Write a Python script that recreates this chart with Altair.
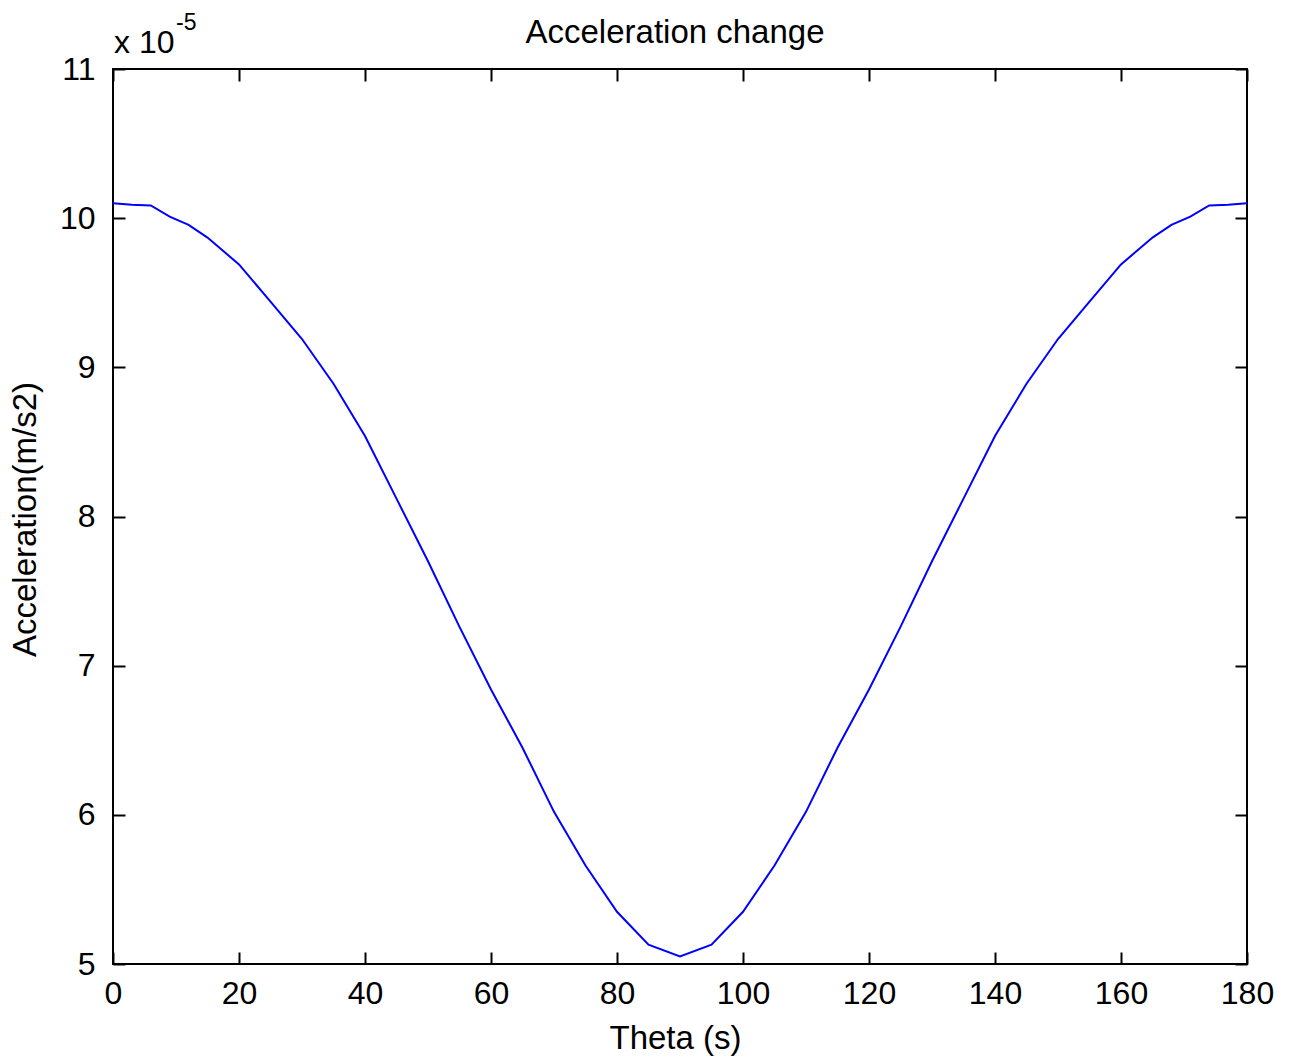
import altair as alt
import pandas as pd

# ---- data (acceleration in units of 1e-5 m/s^2) ----
THETA = [0, 3, 6, 9, 12, 15, 20, 25, 30, 35, 40, 45, 50, 55, 60, 65, 70, 75, 80, 85, 90,
         95, 100, 105, 110, 115, 120, 125, 130, 135, 140, 145, 150, 155, 160, 165,
         168, 171, 174, 177, 180]
ACC_E5 = [10.10, 10.09, 10.085, 10.01, 9.955, 9.87, 9.69, 9.44, 9.19, 8.89, 8.54, 8.12,
          7.70, 7.26, 6.84, 6.45, 6.02, 5.66, 5.35, 5.13, 5.05,
          5.13, 5.35, 5.66, 6.02, 6.45, 6.84, 7.26, 7.70, 8.12, 8.54, 8.89, 9.19, 9.44,
          9.69, 9.87, 9.955, 10.01, 10.085, 10.09, 10.10]
X_TICKS = [0, 20, 40, 60, 80, 100, 120, 140, 160, 180]
Y_TICKS = [5, 6, 7, 8, 9, 10, 11]
EXP_BASE = ["x 10"]
EXP_POWER = ["-5"]
TITLE = ["Acceleration change"]
X_TITLE = "Theta (s)"
Y_TITLE = "Acceleration(m/s2)"

df = pd.DataFrame({"theta": THETA, "acc": ACC_E5})

W, H = 1134, 895
FONT = "Liberation Sans"
xs = alt.Scale(domain=[0, 180], nice=False, zero=False)
ys = alt.Scale(domain=[5, 11], nice=False, zero=False)

base = alt.Chart(df)

main = base.mark_line(color="#0000ff", strokeWidth=2).encode(
    x=alt.X("theta:Q", scale=xs, axis=alt.Axis(
        orient="bottom", values=X_TICKS, ticks=False, tickSize=0, domain=False, grid=False,
        labelFontSize=32, labelFont=FONT, labelColor="black", labelPadding=14,
        labelFlush=False, labelOverlap=False,
        title=X_TITLE, titleFont=FONT, titleFontSize=33, titleFontWeight="normal",
        titleColor="black", titleX=562, titleY=84, titleBaseline="alphabetic")),
    y=alt.Y("acc:Q", scale=ys, axis=alt.Axis(
        orient="left", values=Y_TICKS, ticks=False, tickSize=0, domain=False, grid=False,
        labelFontSize=32, labelFont=FONT, labelColor="black", labelPadding=18,
        labelFlush=False, labelOverlap=False,
        title=Y_TITLE, titleFont=FONT, titleFontSize=33, titleFontWeight="normal",
        titleColor="black", titleX=-78, titleY=450, titleBaseline="alphabetic",
        titleAngle=270)),
)

# inward ticks on the bottom and left edges
ticks_bl = base.mark_line(opacity=0).encode(
    x=alt.X("theta:Q", scale=xs, axis=alt.Axis(
        orient="top", offset=-H, values=X_TICKS, labels=False, domain=False, grid=False,
        tickSize=12, tickWidth=2, tickColor="black", title="")),
    y=alt.Y("acc:Q", scale=ys, axis=alt.Axis(
        orient="right", offset=-W, values=Y_TICKS, labels=False, domain=False, grid=False,
        tickSize=12, tickWidth=2, tickColor="black", title="")),
)

# inward ticks on the top and right edges
ticks_tr = base.mark_line(opacity=0).encode(
    x=alt.X("theta:Q", scale=xs, axis=alt.Axis(
        orient="bottom", offset=-H, values=X_TICKS, labels=False, domain=False, grid=False,
        tickSize=12, tickWidth=2, tickColor="black", title="")),
    y=alt.Y("acc:Q", scale=ys, axis=alt.Axis(
        orient="left", offset=-W, values=Y_TICKS, labels=False, domain=False, grid=False,
        tickSize=12, tickWidth=2, tickColor="black", title="")),
)

exp_base = alt.Chart(pd.DataFrame({"t": EXP_BASE})).mark_text(
    align="left", baseline="alphabetic", fontSize=32, font=FONT, color="black"
).encode(text="t:N", x=alt.value(1), y=alt.value(-16))

exp_power = alt.Chart(pd.DataFrame({"t": EXP_POWER})).mark_text(
    align="left", baseline="alphabetic", fontSize=23, font=FONT, color="black"
).encode(text="t:N", x=alt.value(63), y=alt.value(-39))

title_text = alt.Chart(pd.DataFrame({"t": TITLE})).mark_text(
    align="center", baseline="alphabetic", fontSize=33, font=FONT, color="black"
).encode(text="t:N", x=alt.value(W / 2 - 5), y=alt.value(-26))

chart = alt.layer(main, ticks_bl, ticks_tr, exp_base, exp_power, title_text).resolve_axis(
    x="independent", y="independent"
).properties(
    width=W, height=H,
    background="white",
    autosize=alt.AutoSizeParams(type="none"),
    padding={"left": 113, "top": 69, "right": 43, "bottom": 99},
).configure_view(
    stroke="black", strokeWidth=2
)

chart.save("out.html", embed_options={"renderer": "svg", "actions": False})
